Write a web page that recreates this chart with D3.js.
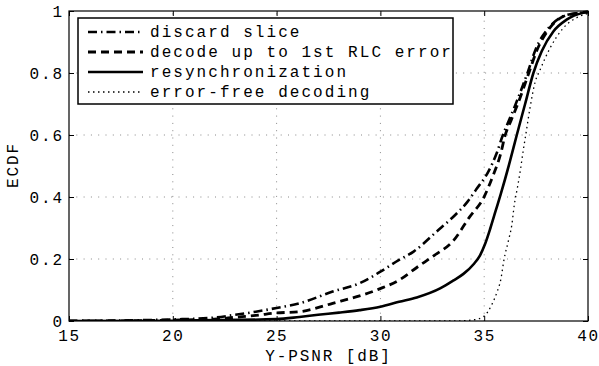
<!DOCTYPE html>
<html><head><meta charset="utf-8">
<script src="https://cdn.jsdelivr.net/npm/d3@7"></script>
<style>body{margin:0;background:#fff}svg{display:block}</style>
</head><body><svg id="c" width="599" height="366"></svg>
<script>
const xTicks=[15,20,25,30,35,40];
const yTicks=[0,0.2,0.4,0.6,0.8,1];
const yTickLabels=["0","0.2","0.4","0.6","0.8","1"];
const seriesNames=["discard slice","decode up to 1st RLC error","resynchronization","error-free decoding"];
const discardX=[15,18,20,22,23,24,25,26.1,27.7,29.0,30.0,30.9,31.6,32.7,33.6,34.2,34.6,35.2,35.6,35.9,36.2,36.5,37.1,37.5,38.1,38.8,39.5,40];
const discardY=[0,0.002,0.005,0.011,0.02,0.03,0.042,0.057,0.095,0.122,0.159,0.197,0.224,0.288,0.342,0.385,0.423,0.482,0.541,0.6,0.648,0.697,0.803,0.88,0.945,0.983,0.993,0.997];
const decodeX=[15,18,20,22,23,24,25,26.1,27.7,29.9,30.9,31.8,32.6,33.5,34.3,35.0,35.4,35.8,36.0,36.3,36.6,37.15,37.55,38.1,38.8,39.5,40];
const decodeY=[0,0.001,0.003,0.006,0.012,0.018,0.026,0.03,0.057,0.102,0.132,0.175,0.212,0.258,0.336,0.401,0.465,0.541,0.597,0.648,0.697,0.8,0.875,0.94,0.982,0.993,0.997];
const resyncX=[15,20,25,26.1,27,28,29,30.0,30.9,31.75,32.9,33.5,34.0,34.5,34.8,35.05,35.3,35.55,35.8,36.2,36.57,36.97,37.37,37.77,38.33,38.97,39.77,40];
const resyncY=[0,0.001,0.006,0.013,0.02,0.027,0.035,0.046,0.062,0.076,0.106,0.13,0.152,0.184,0.212,0.25,0.30,0.355,0.41,0.505,0.6,0.70,0.8,0.87,0.934,0.972,0.994,0.997];
const freeX=[15,33.6,34.5,34.96,35.36,35.6,35.8,35.96,36.17,36.33,36.45,36.6,36.75,36.88,37.0,37.2,37.45,37.69,38.17,38.81,39.6,40];
const freeY=[0,0,0.004,0.014,0.052,0.09,0.134,0.2,0.26,0.31,0.375,0.43,0.49,0.55,0.6,0.685,0.77,0.81,0.88,0.945,0.983,0.992];

const svg=d3.select("#c");
const L=69,R=588,T=11,B=321;
const x=d3.scaleLinear().domain([15,40]).range([L,R]);
const y=d3.scaleLinear().domain([0,1]).range([B,T]);
const font="'Liberation Mono','DejaVu Sans Mono',monospace";
const fs=16, ls=1.9;

// grid
const g=svg.append("g");
g.selectAll("line.vg").data(xTicks.slice(1,-1)).join("line")
 .attr("x1",d=>x(d)).attr("x2",d=>x(d)).attr("y1",B).attr("y2",T)
 .attr("stroke","#888").attr("stroke-width",1).attr("stroke-dasharray","1,6.3");
g.selectAll("line.hg").data(yTicks.slice(1,-1)).join("line")
 .attr("x1",L).attr("x2",R).attr("y1",d=>y(d)).attr("y2",d=>y(d))
 .attr("stroke","#888").attr("stroke-width",1).attr("stroke-dasharray","1,6.3");

// axes
const ax=svg.append("g").attr("transform",`translate(0,${B})`)
 .call(d3.axisBottom(x).tickValues(xTicks).tickSize(-5).tickPadding(8.6).tickFormat(d3.format("d")));
const axT=svg.append("g").attr("transform",`translate(0,${T})`)
 .call(d3.axisTop(x).tickValues(xTicks).tickSize(-5).tickFormat(""));
const ay=svg.append("g").attr("transform",`translate(${L},0)`)
 .call(d3.axisLeft(y).tickValues(yTicks).tickSize(-5).tickPadding(5).tickFormat((d,i)=>yTickLabels[i]));
const ayR=svg.append("g").attr("transform",`translate(${R},0)`)
 .call(d3.axisRight(y).tickValues(yTicks).tickSize(-5).tickFormat(""));
[ax,axT,ay,ayR].forEach(a=>{
  a.selectAll(".domain").remove();
  a.selectAll("line").attr("stroke","#000");
  a.selectAll("text").attr("font-family",font).attr("font-size",fs).attr("fill","#000");
});
ay.selectAll("text").attr("letter-spacing",ls);
ax.selectAll("text").attr("letter-spacing",1.6);
svg.append("rect").attr("x",L).attr("y",T).attr("width",R-L).attr("height",B-T)
 .attr("fill","none").attr("stroke","#000").attr("stroke-width",1.2);

// lines
const styles=[
 {dash:"9,4,1.5,4",w:2.6},
 {dash:"8,5",w:2.8},
 {dash:null,w:2.6},
 {dash:"1.5,3.5",w:1.3}
];
const data=[[discardX,discardY],[decodeX,decodeY],[resyncX,resyncY],[freeX,freeY]];
const line=d3.line().x(d=>x(d[0])).y(d=>y(d[1])).curve(d3.curveMonotoneX);
svg.append("clipPath").attr("id","cp").append("rect").attr("x",L).attr("y",T-2).attr("width",R-L).attr("height",B-T+2);
data.forEach((s,i)=>{
  const pts=s[0].map((v,j)=>[v,s[1][j]]);
  svg.append("path").datum(pts).attr("d",line).attr("fill","none")
   .attr("stroke","#000").attr("stroke-width",styles[i].w)
   .attr("stroke-dasharray",styles[i].dash).attr("clip-path","url(#cp)");
});

// legend
const lg=svg.append("g");
lg.append("rect").attr("x",78).attr("y",18).attr("width",375).attr("height",86)
 .attr("fill","#fff").attr("stroke","#000").attr("stroke-width",1.5);
seriesNames.forEach((n,i)=>{
  const yy=32+i*20;
  lg.append("line").attr("x1",88).attr("x2",143).attr("y1",yy).attr("y2",yy)
   .attr("stroke","#000").attr("stroke-width",styles[i].w).attr("stroke-dasharray",styles[i].dash);
  lg.append("text").attr("x",150).attr("y",yy+5).text(n)
   .attr("font-family",font).attr("font-size",fs).attr("letter-spacing",2.05);
});

svg.append("text").attr("x",(L+R)/2).attr("y",361).attr("text-anchor","middle")
 .attr("font-family",font).attr("font-size",fs).attr("letter-spacing",ls).text("Y-PSNR [dB]");
svg.append("text").attr("transform","translate(18,165) rotate(-90)").attr("text-anchor","middle")
 .attr("font-family",font).attr("font-size",fs).attr("letter-spacing",ls).text("ECDF");
</script></body></html>
